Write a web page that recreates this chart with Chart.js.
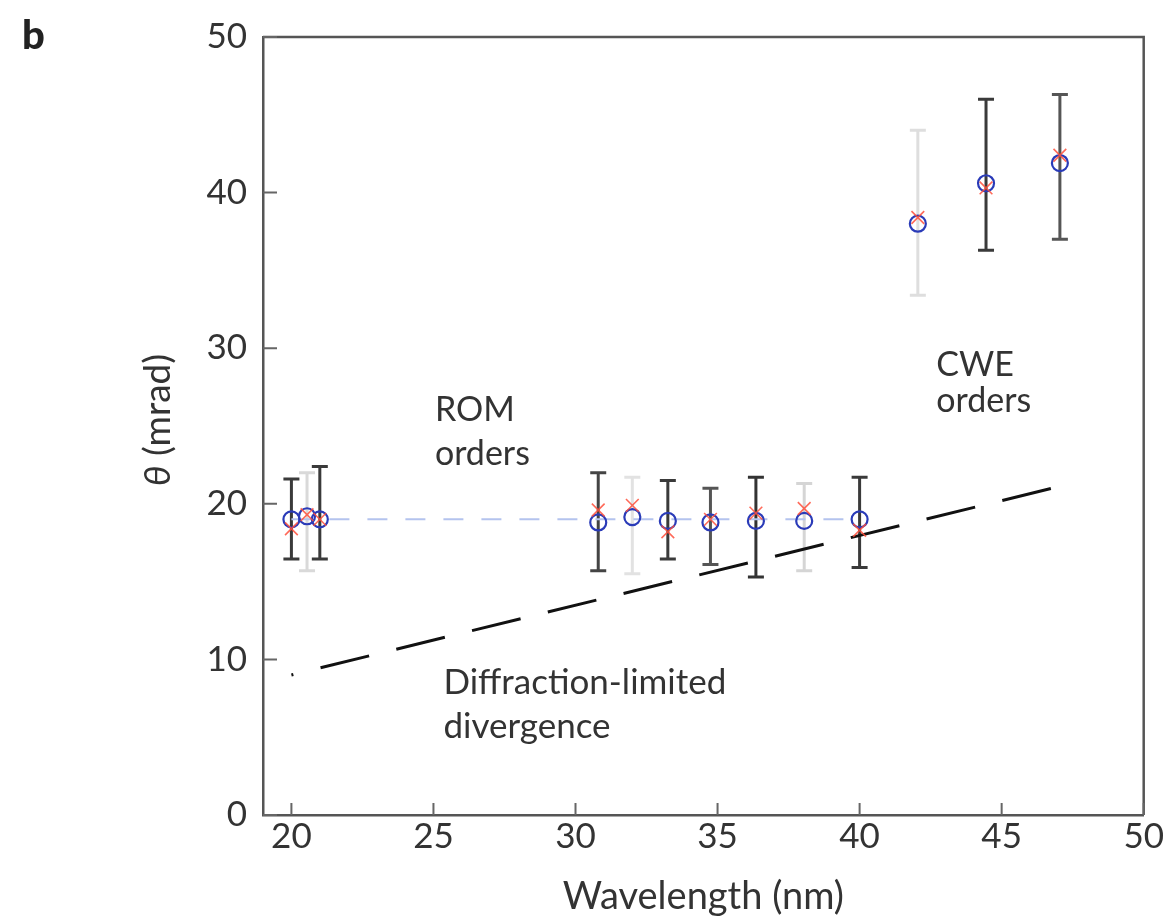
<!DOCTYPE html>
<html>
<head>
<meta charset="utf-8">
<script src="https://cdn.jsdelivr.net/npm/chart.js@4.4.0/dist/chart.umd.min.js"></script>
<style>
html, body { margin: 0; padding: 0; background: #fff; }
#wrap { width: 1165px; height: 916px; position: relative; }
</style>
</head>
<body>
<div id="wrap"><canvas id="chart"></canvas></div>
<script>
// measured harmonic orders (wavelength in nm, divergence in mrad)
var wavelength    = [20, 20.55, 21, 30.8, 32, 33.25, 34.75, 36.35, 38.05, 40, 42.05, 44.45, 47.05];
var thetaMeasured = [19.0, 19.2, 19.0, 18.8, 19.15, 18.9, 18.8, 18.9, 18.9, 19.0, 38.0, 40.6, 41.9];
var thetaModel    = [18.4, 19.3, 19.0, 19.6, 19.9, 18.2, 19.0, 19.4, 19.7, 18.3, 38.4, 40.3, 42.4];
var errTop        = [21.6, 22.0, 22.4, 22.0, 21.7, 21.5, 21.0, 21.7, 21.3, 21.7, 44.0, 46.0, 46.3];
var errBottom     = [16.45, 15.7, 16.45, 15.7, 15.5, 16.45, 16.1, 15.3, 15.7, 15.9, 33.4, 36.3, 37.0];
var errColor      = ['#3a3a3a', '#d9d9d9', '#3a3a3a', '#444', '#e2e2e2', '#3a3a3a', '#555', '#333', '#d5d5d5', '#3a3a3a', '#dedede', '#3a3a3a', '#555'];

// ROM level and diffraction limit
var romX = [20, 40];
var romY = [19, 19];
var diffX = [20, 47];
var diffY = [9.0, 21.1];

var xTicks = [20, 25, 30, 35, 40, 45, 50];
var yTicks = [0, 10, 20, 30, 40, 50];

var labels = [
  {text: 'ROM', x: 25.05, y: 26.0, size: 34},
  {text: 'orders', x: 25.05, y: 23.2, size: 34},
  {text: 'CWE', x: 42.7, y: 28.9, size: 34},
  {text: 'orders', x: 42.7, y: 26.6, size: 34},
  {text: 'Diffraction-limited', x: 25.35, y: 8.5, size: 35},
  {text: 'divergence', x: 25.35, y: 5.65, size: 35}
];

var pts = function(xs, ys){
  var out = [];
  for (var i = 0; i < xs.length; i++) out.push({x: xs[i], y: ys[i]});
  return out;
};

var FONT = 'Lato';
var TEXT = '#333';

var extras = {
  id: 'extras',
  beforeDatasetsDraw: function(chart){
    var ctx = chart.ctx, xs = chart.scales.x, ys = chart.scales.y;
    ctx.save();
    // error bars
    for (var i = 0; i < wavelength.length; i++) {
      var px = xs.getPixelForValue(wavelength[i]);
      var t = ys.getPixelForValue(errTop[i]);
      var b = ys.getPixelForValue(errBottom[i]);
      ctx.strokeStyle = errColor[i];
      ctx.lineWidth = 3;
      ctx.beginPath();
      ctx.moveTo(px, t); ctx.lineTo(px, b);
      ctx.moveTo(px - 8, t); ctx.lineTo(px + 8, t);
      ctx.moveTo(px - 8, b); ctx.lineTo(px + 8, b);
      ctx.stroke();
    }
    ctx.restore();
  },
  afterDraw: function(chart){
    var ctx = chart.ctx, xs = chart.scales.x, ys = chart.scales.y, a = chart.chartArea;
    ctx.save();
    // frame
    ctx.strokeStyle = '#555';
    ctx.lineWidth = 2.5;
    ctx.beginPath();
    ctx.moveTo(a.left, a.top); ctx.lineTo(a.right, a.top); ctx.lineTo(a.right, a.bottom);
    ctx.stroke();
    // inward ticks
    ctx.lineWidth = 2;
    ctx.strokeStyle = '#666';
    ctx.beginPath();
    xTicks.forEach(function(v){
      var p = xs.getPixelForValue(v);
      ctx.moveTo(p, a.bottom); ctx.lineTo(p, a.bottom - 12);
    });
    yTicks.forEach(function(v){
      var p = ys.getPixelForValue(v);
      ctx.moveTo(a.left, p); ctx.lineTo(a.left + 14, p);
    });
    ctx.stroke();
    // annotations
    ctx.fillStyle = TEXT;
    ctx.textAlign = 'left';
    ctx.textBaseline = 'middle';
    labels.forEach(function(l){
      ctx.font = l.size + 'px ' + FONT;
      ctx.fillText(l.text, xs.getPixelForValue(l.x), ys.getPixelForValue(l.y));
    });
    // panel letter
    ctx.font = '900 40px ' + FONT;
    ctx.fillStyle = '#222';
    ctx.fillText('b', 22, 36);
    // y title
    ctx.translate(158, 420);
    ctx.rotate(-Math.PI / 2);
    ctx.fillStyle = TEXT;
    ctx.font = 'italic 37px ' + FONT;
    var w1 = ctx.measureText('\u03b8').width;
    ctx.font = '37px ' + FONT;
    var w2 = ctx.measureText(' (mrad)').width;
    var x0 = -(w1 + w2) / 2;
    ctx.font = 'italic 37px ' + FONT;
    ctx.fillText('\u03b8', x0, 0);
    ctx.font = '37px ' + FONT;
    ctx.fillText(' (mrad)', x0 + w1, 0);
    ctx.restore();
  }
};

new Chart(document.getElementById('chart'), {
  type: 'scatter',
  data: {
    datasets: [
      {
        label: 'measured',
        data: pts(wavelength, thetaMeasured),
        pointStyle: 'circle',
        pointRadius: 8,
        pointBorderWidth: 2.2,
        borderColor: '#2a3bb8',
        backgroundColor: 'rgba(0,0,0,0)',
        order: 1
      },
      {
        label: 'model',
        data: pts(wavelength, thetaModel),
        pointStyle: 'crossRot',
        pointRadius: 9,
        pointBorderWidth: 1.6,
        borderColor: 'rgba(255,80,60,0.85)',
        order: 0
      },
      {
        label: 'ROM level',
        type: 'line',
        data: pts(romX, romY),
        borderColor: '#b4c3ee',
        borderWidth: 2,
        borderDash: [20, 18],
        pointRadius: 0,
        order: 3
      },
      {
        label: 'Diffraction limit',
        type: 'line',
        data: pts(diffX, diffY),
        borderColor: '#111',
        borderWidth: 3,
        borderDash: [50, 28],
        borderDashOffset: 48,
        pointRadius: 0,
        order: 2
      }
    ]
  },
  plugins: [extras],
  options: {
    responsive: true,
    maintainAspectRatio: false,
    animation: false,
    layout: { padding: { left: 0, top: 37, right: 20, bottom: 0 } },
    plugins: { legend: { display: false }, tooltip: { enabled: false } },
    scales: {
      x: {
        type: 'linear',
        min: 19,
        max: 50,
        afterBuildTicks: function(s){ s.ticks = xTicks.map(function(v){ return {value: v}; }); },
        afterFit: function(s){ s.height = 101; },
        grid: { display: false, drawTicks: false },
        border: { display: true, color: '#555', width: 2.5 },
        ticks: { color: TEXT, font: { family: FONT, size: 35 }, padding: 1, maxRotation: 0 },
        title: { display: true, text: 'Wavelength (nm)', color: TEXT, font: { family: FONT, size: 38, lineHeight: 1.0 }, padding: { top: 2, bottom: 0 } }
      },
      y: {
        type: 'linear',
        min: 0,
        max: 50,
        afterBuildTicks: function(s){ s.ticks = yTicks.map(function(v){ return {value: v}; }); },
        afterFit: function(s){ s.width = 263; },
        grid: { display: false, drawTicks: false },
        border: { display: true, color: '#555', width: 2.5 },
        ticks: { color: TEXT, font: { family: FONT, size: 35 }, padding: 16 }
      }
    }
  }
});
</script>
</body>
</html>
